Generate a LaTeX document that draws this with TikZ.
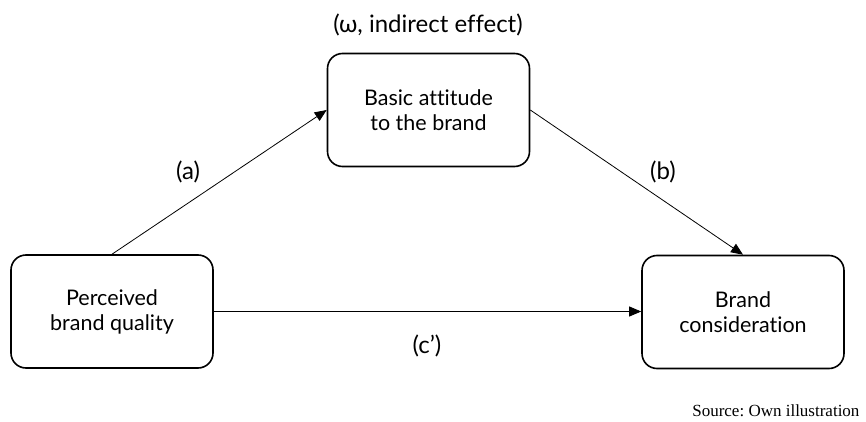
\documentclass[tikz,border=0pt]{standalone}
\usepackage{fontspec}
\setmainfont{Lato}[Ligatures=CommonOff]
\newfontfamily\srcfont{Liberation Serif}
\usetikzlibrary{arrows.meta}
\frenchspacing
\begin{document}
\begin{tikzpicture}[x=1pt,y=1pt,
  box/.style={draw, line width=1.6pt, rounded corners=15pt, minimum width=202pt, minimum height=113pt, align=center, font=\fontsize{21.5}{25}\selectfont},
  conn/.style={-{Triangle[length=12pt,width=10pt]}, line width=0.8pt},
  lbl/.style={font=\fontsize{24}{28}\selectfont}]
\useasboundingbox (0,0) rectangle (866,421);
\node[box] (att) at (428.5,311) {Basic attitude\\to the brand};
\node[box] (pbq) at (112,109.5) {Perceived\\brand quality};
\node[box] (bc) at (743,109) {Brand\\consideration};
\node[lbl] (om) at (428,396) {(ω, indirect effect)};
\node[lbl] (la) at (188,249.5) {(a)};
\node[lbl] (lb) at (663,249.5) {(b)};
\node[lbl] (lc) at (427,75.5) {(c’)};
\node[font=\srcfont\fontsize{17}{20}\selectfont, anchor=base east] (src) at (863,4.5) {Source: Own illustration};
\draw[conn] (pbq.north) -- (att.west);
\draw[conn] (att.east) -- (bc.north);
\draw[conn] (pbq.east) -- (bc.west |- pbq.east);
\end{tikzpicture}
\end{document}
